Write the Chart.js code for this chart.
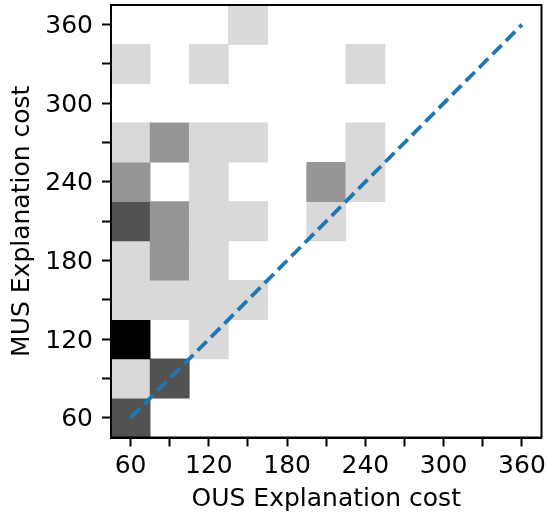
<!DOCTYPE html>
<html>
<head>
<meta charset="utf-8">
<script src="https://cdn.jsdelivr.net/npm/chart.js@4.4.1/dist/chart.umd.min.js"></script>
<style>
  body { margin: 0; background: #fff; }
  #wrap { width: 548px; height: 515px; }
</style>
</head>
<body>
<div id="wrap"><canvas id="heat"></canvas></div>
<script>
// bin edges (same bins on both axes)
const ousEdges = [45, 75, 105, 135, 165, 195, 225, 255, 285, 315, 345, 375];
const musEdges = [45, 75, 105, 135, 165, 195, 225, 255, 285, 315, 345, 375];

// counts per MUS row (bottom to top), one value per OUS bin
const row60  = [3, 0, 0, 0, 0, 0, 0, 0, 0, 0, 0];
const row90  = [1, 3, 0, 0, 0, 0, 0, 0, 0, 0, 0];
const row120 = [4, 0, 1, 0, 0, 0, 0, 0, 0, 0, 0];
const row150 = [1, 1, 1, 1, 0, 0, 0, 0, 0, 0, 0];
const row180 = [1, 2, 1, 0, 0, 0, 0, 0, 0, 0, 0];
const row210 = [3, 2, 1, 1, 0, 1, 0, 0, 0, 0, 0];
const row240 = [2, 0, 1, 0, 0, 2, 1, 0, 0, 0, 0];
const row270 = [1, 2, 1, 1, 0, 0, 1, 0, 0, 0, 0];
const row300 = [0, 0, 0, 0, 0, 0, 0, 0, 0, 0, 0];
const row330 = [1, 0, 1, 0, 0, 0, 1, 0, 0, 0, 0];
const row360 = [0, 0, 0, 1, 0, 0, 0, 0, 0, 0, 0];
const countRows = [row60, row90, row120, row150, row180, row210, row240, row270, row300, row330, row360];

// ticks
const tickValues = [60, 90, 120, 150, 180, 210, 240, 270, 300, 330, 360];
const tickLabels = ['60', '', '120', '', '180', '', '240', '', '300', '', '360'];

// y = x reference line
const diagonal = [60, 360];

// Greys colormap for counts 0..4
const greys = ['#ffffff', '#d9d9d9', '#969696', '#525252', '#000000'];

// cells -> floating bars
const cells = [];
countRows.forEach((row, j) => {
    row.forEach((n, i) => {
        if (n > 0) {
            cells.push({
                x: (ousEdges[i] + ousEdges[i + 1]) / 2,
                y: [musEdges[j], musEdges[j + 1]],
                n: n
            });
        }
    });
});

const font = { family: 'DejaVu Sans', size: 25 };

// top / right spines
const frame = {
    id: 'frame',
    afterDraw(chart) {
        const { ctx, chartArea: a } = chart;
        ctx.save();
        ctx.strokeStyle = '#000';
        ctx.lineWidth = 2;
        ctx.strokeRect(a.left, a.top, a.right - a.left, a.bottom - a.top);
        ctx.restore();
    }
};

new Chart(document.getElementById('heat'), {
    type: 'bar',
    data: {
        datasets: [{
            type: 'line',
            data: diagonal.map(v => ({ x: v, y: v })),
            borderColor: '#1f77b4',
            borderWidth: 3.8,
            borderDash: [13, 6],
            pointRadius: 0,
            fill: false,
            order: 0
        }, {
            type: 'bar',
            data: cells,
            backgroundColor: c => greys[c.raw ? c.raw.n : 0],
            borderWidth: 0,
            grouped: false,
            barPercentage: 1,
            categoryPercentage: 1,
            order: 1
        }]
    },
    options: {
        responsive: true,
        maintainAspectRatio: false,
        animation: false,
        layout: { padding: { top: 5, right: 6.5, left: 0, bottom: 0 } },
        plugins: {
            legend: { display: false },
            tooltip: { enabled: false }
        },
        scales: {
            x: {
                type: 'linear',
                min: 45,
                max: 375,
                offset: false,
                afterBuildTicks: s => { s.ticks = tickValues.map(v => ({ value: v })); },
                afterFit: s => { s.height = 77.5; s.paddingLeft = 0; s.paddingRight = 0; },
                ticks: {
                    autoSkip: false,
                    maxRotation: 0,
                    padding: 5,
                    color: '#000',
                    font: font,
                    callback: (v, i) => tickLabels[i]
                },
                grid: { drawOnChartArea: false, drawTicks: true, tickLength: 9, tickWidth: 2, tickColor: '#000', offset: false },
                border: { display: true, color: '#000', width: 2 },
                title: {
                    display: true,
                    text: 'OUS Explanation cost',
                    color: '#000',
                    font: { family: 'DejaVu Sans', size: 25, lineHeight: 1 },
                    padding: { top: 0, bottom: 3 }
                }
            },
            y: {
                type: 'linear',
                min: 45,
                max: 375,
                afterBuildTicks: s => { s.ticks = tickValues.map(v => ({ value: v })); },
                afterFit: s => { s.width = 111; s.paddingTop = 0; s.paddingBottom = 0; },
                ticks: {
                    autoSkip: false,
                    padding: 9,
                    labelOffset: 2,
                    color: '#000',
                    font: font,
                    callback: (v, i) => tickLabels[i]
                },
                grid: { drawOnChartArea: false, drawTicks: true, tickLength: 9, tickWidth: 2, tickColor: '#000' },
                border: { display: true, color: '#000', width: 2 },
                title: {
                    display: true,
                    text: 'MUS Explanation cost',
                    color: '#000',
                    font: { family: 'DejaVu Sans', size: 25, lineHeight: 1 },
                    padding: { top: 9.6, bottom: 0 }
                }
            }
        }
    },
    plugins: [frame]
});
</script>
</body>
</html>
